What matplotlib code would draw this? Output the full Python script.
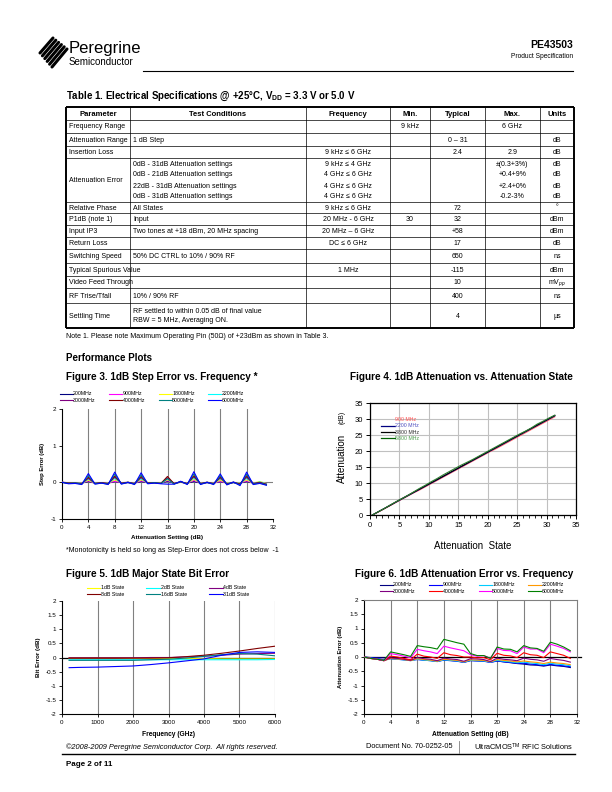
import matplotlib
matplotlib.use('Agg')
import matplotlib.pyplot as plt
from matplotlib.lines import Line2D
import numpy as np

plt.rcParams['font.family'] = ['Liberation Sans', 'DejaVu Sans']
plt.rcParams['mathtext.fontset'] = 'custom'
plt.rcParams['mathtext.rm'] = 'Liberation Sans'
plt.rcParams['mathtext.bf'] = 'Liberation Sans:bold'
plt.rcParams['mathtext.it'] = 'Liberation Sans:italic'

# ---------------- DATA ----------------
# Table 1
headers = ["Parameter", "Test Conditions", "Frequency", "Min.", "Typical", "Max.", "Units"]
params = ["Frequency Range", "Attenuation Range", "Insertion Loss", "Attenuation Error",
          "Relative Phase", "P1dB (note 1)", "Input IP3", "Return Loss", "Switching Speed",
          "Typical Spurious Value", "Video Feed Through", "RF Trise/Tfall", "Settling Time"]
conditions = ["", "1 dB Step", "",
              "0dB - 31dB Attenuation settings\n0dB - 21dB Attenuation settings\n22dB - 31dB Attenuation settings\n0dB - 31dB Attenuation settings",
              "All States", "Input", "Two tones at +18 dBm, 20 MHz spacing", "",
              "50% DC CTRL to 10% / 90% RF", "", "", "10% / 90% RF",
              "RF settled to within 0.05 dB of final value\nRBW = 5 MHz, Averaging ON."]
frequency = ["", "", "9 kHz ≤ 6 GHz",
             "9 kHz ≤ 4 GHz\n4 GHz ≤ 6 GHz\n4 GHz ≤ 6 GHz\n4 GHz ≤ 6 GHz",
             "9 kHz ≤ 6 GHz", "20 MHz - 6 GHz", "20 MHz – 6 GHz", "DC ≤ 6 GHz", "",
             "1 MHz", "", "", ""]
mins = ["9 kHz", "", "", "", "", "30", "", "", "", "", "", "", ""]
typical = ["", "0 – 31", "2.4", "", "72", "32", "+58", "17", "650", "-115", "10", "400", "4"]
maxs = ["6 GHz", "", "2.9", "±(0.3+3%)\n+0.4+9%\n+2.4+0%\n-0.2-3%", "", "", "", "", "", "", "", "", ""]
units = ["", "dB", "dB", "dB\ndB\ndB\ndB", "°", "dBm", "dBm", "dB", "ns", "dBm",
         "mV$_{pp}$", "ns", "µs"]

# Figure 3: 1dB step error vs frequency
f3_x = list(range(32))
f3_labels = ["200MHz", "900MHz", "1800MHz", "2200MHz", "3000MHz", "4000MHz", "5000MHz", "6000MHz"]
f3_200 = [0,-0.01,-0.01,-0.02,0.02,-0.02,-0.01,-0.02,0.02,-0.01,-0.01,-0.02,0.02,-0.01,-0.01,-0.02,0.03,-0.02,0.0,-0.02,0.02,-0.02,-0.01,-0.02,0.02,-0.02,-0.01,-0.02,0.02,-0.02,0.0,-0.03]
f3_900 = [0,-0.01,-0.01,-0.02,0.04,-0.02,-0.01,-0.02,0.03,-0.01,0.0,-0.02,0.04,-0.01,-0.01,-0.02,0.05,-0.02,0.0,-0.02,0.05,-0.02,0.0,-0.02,0.03,-0.02,0.0,-0.02,0.04,-0.02,0.0,-0.03]
f3_1800 = [0,-0.01,-0.01,-0.02,0.06,-0.02,-0.01,-0.02,0.07,-0.01,0.0,-0.02,0.07,-0.01,-0.01,-0.02,0.07,-0.02,0.0,-0.02,0.08,-0.02,0.0,-0.02,0.06,-0.02,0.0,-0.02,0.07,-0.02,0.02,-0.03]
f3_2200 = [0,-0.02,-0.01,-0.03,0.09,-0.02,-0.01,-0.03,0.11,-0.02,0.0,-0.03,0.1,-0.02,-0.01,-0.03,0.1,-0.03,0.01,-0.03,0.12,-0.03,0.0,-0.03,0.1,-0.03,0.0,-0.03,0.11,-0.03,0.01,-0.04]
f3_3000 = [0,-0.02,-0.02,-0.03,0.11,-0.03,-0.01,-0.03,0.14,-0.02,0.0,-0.03,0.13,-0.02,-0.01,-0.03,0.12,-0.03,0.01,-0.03,0.15,-0.03,0.0,-0.03,0.12,-0.04,0.0,-0.04,0.14,-0.03,0.0,-0.05]
f3_4000 = [0,-0.02,-0.02,-0.04,0.14,-0.03,-0.01,-0.04,0.17,-0.03,0.0,-0.04,0.16,-0.02,-0.01,-0.03,0.16,-0.04,0.02,-0.04,0.18,-0.04,0.0,-0.04,0.15,-0.05,0.0,-0.05,0.18,-0.04,-0.01,-0.06]
f3_5000 = [0,-0.03,-0.02,-0.05,0.18,-0.04,-0.02,-0.05,0.22,-0.04,0.0,-0.05,0.2,-0.03,-0.01,-0.03,0.1,-0.05,0.02,-0.05,0.23,-0.05,0.0,-0.05,0.18,-0.06,0.0,-0.07,0.22,-0.05,-0.02,-0.07]
f3_6000 = [0,-0.04,-0.03,-0.06,0.24,-0.05,-0.02,-0.06,0.28,-0.05,0.0,-0.06,0.26,-0.04,-0.02,-0.04,-0.05,-0.05,0.03,-0.06,0.29,-0.06,0.0,-0.06,0.23,-0.07,0.01,-0.09,0.28,-0.06,-0.03,-0.08]
f3_xticks = [0, 4, 8, 12, 16, 20, 24, 28, 32]
f3_yticks = [-1, 0, 1, 2]

# Figure 4: attenuation vs attenuation state
f4_states = [0.4, 1.4, 2.4, 3.4, 4.4, 5.4, 6.4, 7.4, 8.4, 9.4, 10.4, 11.4, 12.4, 13.4, 14.4, 15.4,
             16.4, 17.4, 18.4, 19.4, 20.4, 21.4, 22.4, 23.4, 24.4, 25.4, 26.4, 27.4, 28.4, 29.4, 30.4, 31.4]
f4_labels = ["900 MHz", "2200 MHz", "3800 MHz", "5800 MHz"]
f4_900 = [0,0.9,1.9,2.9,3.9,4.9,5.9,6.9,7.8,8.8,9.8,10.8,11.8,12.8,13.8,14.8,15.8,16.8,17.8,18.8,19.8,20.7,21.7,22.7,23.7,24.7,25.7,26.7,27.7,28.7,29.7,30.7]
f4_2200 = [0,1.0,2.0,3.0,4.0,5.0,6.0,7.0,8.0,9.0,10.0,11.0,12.0,13.0,14.0,15.0,16.0,17.0,18.0,19.0,20.0,21.0,22.0,23.0,24.0,25.0,26.0,27.0,28.0,29.0,30.0,31.0]
f4_3800 = [0,1.0,2.0,3.0,4.1,5.1,6.1,7.1,8.1,9.1,10.1,11.1,12.1,13.1,14.1,15.1,16.1,17.1,18.1,19.1,20.1,21.1,22.1,23.1,24.1,25.1,26.1,27.1,28.1,29.1,30.1,31.1]
f4_5800 = [0,1.0,2.0,3.1,4.1,5.1,6.1,7.2,8.3,9.3,10.4,11.4,12.5,13.5,14.5,15.5,16.4,17.3,18.3,19.3,20.3,21.3,22.3,23.3,24.3,25.3,26.2,27.2,28.4,29.3,30.3,31.2]
f4_ticks = [0, 5, 10, 15, 20, 25, 30, 35]

# Figure 5: major state bit error
f5_freq = [200, 500, 1000, 1500, 2000, 2500, 3000, 3500, 4000, 4500, 5000, 5500, 6000]
f5_labels = ["1dB State", "2dB State", "4dB State", "8dB State", "16dB State", "31dB State"]
f5_1 = [-0.02,-0.02,-0.02,-0.02,-0.03,-0.03,-0.03,-0.04,-0.04,-0.05,-0.05,-0.05,-0.05]
f5_2 = [-0.08,-0.08,-0.08,-0.08,-0.08,-0.08,-0.08,-0.08,-0.08,-0.08,-0.08,-0.08,-0.07]
f5_4 = [-0.01,-0.01,-0.01,-0.01,-0.01,0.0,0.0,0.02,0.05,0.08,0.12,0.14,0.15]
f5_8 = [-0.02,-0.02,-0.02,-0.02,-0.02,-0.02,-0.01,0.03,0.08,0.15,0.23,0.32,0.40]
f5_16 = [-0.10,-0.10,-0.10,-0.10,-0.10,-0.08,-0.06,-0.02,0.04,0.10,0.14,0.12,0.06]
f5_31 = [-0.36,-0.35,-0.34,-0.32,-0.30,-0.25,-0.19,-0.12,-0.05,0.08,0.18,0.20,0.18]
f5_xticks = [0, 1000, 2000, 3000, 4000, 5000, 6000]
f5_yticks = [-2, -1.5, -1, -0.5, 0, 0.5, 1, 1.5, 2]

# Figure 6: attenuation error vs frequency
f6_x = list(range(32))
f6_labels = ["200MHz", "900MHz", "1800MHz", "2200MHz", "3000MHz", "4000MHz", "5000MHz", "6000MHz"]
f6_200 = [0,-0.02,-0.02,-0.03,-0.05,-0.07,-0.09,-0.1,-0.08,-0.1,-0.12,-0.15,-0.1,-0.12,-0.14,-0.18,-0.12,-0.13,-0.14,-0.18,-0.14,-0.17,-0.2,-0.23,-0.25,-0.28,-0.29,-0.32,-0.28,-0.31,-0.33,-0.37]
f6_900 = [0,-0.03,-0.05,-0.1,-0.06,-0.08,-0.1,-0.12,-0.09,-0.11,-0.13,-0.16,-0.11,-0.13,-0.15,-0.19,-0.13,-0.14,-0.15,-0.19,-0.14,-0.17,-0.19,-0.22,-0.22,-0.25,-0.27,-0.3,-0.26,-0.29,-0.31,-0.34]
f6_1800 = [0,-0.04,-0.07,-0.12,-0.06,-0.08,-0.1,-0.13,-0.08,-0.11,-0.13,-0.16,-0.1,-0.12,-0.14,-0.18,-0.12,-0.13,-0.14,-0.18,-0.12,-0.15,-0.17,-0.2,-0.18,-0.21,-0.23,-0.27,-0.22,-0.25,-0.27,-0.31]
f6_2200 = [0,-0.05,-0.08,-0.13,-0.05,-0.07,-0.09,-0.13,-0.06,-0.09,-0.11,-0.15,-0.08,-0.1,-0.12,-0.17,-0.1,-0.11,-0.12,-0.17,-0.09,-0.12,-0.14,-0.17,-0.14,-0.17,-0.19,-0.23,-0.18,-0.21,-0.23,-0.27]
f6_3000 = [0,-0.05,-0.08,-0.13,-0.03,-0.05,-0.08,-0.12,-0.02,-0.06,-0.08,-0.13,-0.04,-0.07,-0.09,-0.15,-0.06,-0.07,-0.09,-0.16,-0.04,-0.08,-0.1,-0.13,-0.04,-0.08,-0.1,-0.15,-0.05,-0.09,-0.12,-0.18]
f6_4000 = [0,-0.05,-0.08,-0.13,0.03,0.0,-0.05,-0.1,0.1,0.03,0.0,-0.05,0.15,0.08,0.05,0.0,0.0,-0.03,-0.02,-0.1,0.13,0.06,0.04,-0.02,0.15,0.08,0.06,-0.02,0.18,0.12,0.06,-0.05]
f6_5000 = [0,-0.05,-0.08,-0.13,0.12,0.08,0.03,-0.03,0.27,0.22,0.18,0.12,0.38,0.32,0.27,0.22,0.08,0.03,0.05,-0.05,0.3,0.23,0.22,0.12,0.35,0.28,0.28,0.15,0.45,0.38,0.3,0.18]
f6_6000 = [0,-0.05,-0.08,-0.12,0.18,0.13,0.08,0.02,0.4,0.36,0.33,0.28,0.62,0.56,0.5,0.45,0.12,0.05,0.05,-0.05,0.35,0.28,0.27,0.18,0.4,0.32,0.3,0.2,0.52,0.45,0.35,0.22]
f6_xticks = [0, 4, 8, 12, 16, 20, 24, 28, 32]
f6_yticks = [-2, -1.5, -1, -0.5, 0, 0.5, 1, 1.5, 2]

# ---------------- PAGE ----------------
W, H = 612, 792
fig = plt.figure(figsize=(6.12, 7.92), dpi=100)
page = fig.add_axes([0, 0, 1, 1])
page.set_xlim(0, W)
page.set_ylim(H, 0)
page.axis('off')


def rect(l, t, r, b):
    return [l / W, 1 - b / H, (r - l) / W, (b - t) / H]


# Logo
for i in range(6):
    t = i / 5.0
    x0, y0 = 40 + 12 * t, 53 + 14 * t
    x1, y1 = 53 + 14 * t, 38 + 11 * t
    page.plot([x0, x1], [y0, y1], color='black', lw=2.2, solid_capstyle='round')
page.text(69, 49, "Peregrine", fontsize=12, va='center', ha='left', color='black')
page.text(69, 62, "Semiconductor", fontsize=7, va='center', ha='left', color='black')
page.plot([143, 573], [71, 71], color='black', lw=0.8)
page.text(573, 45, "PE43503", fontsize=7.5, fontweight='bold', ha='right', va='center')
page.text(573, 57, "Product Specification", fontsize=4.8, ha='right', va='center')

# Table title
page.text(66, 96, "Table 1. Electrical Specifications @ +25°C, V$_{\\mathbf{DD}}$ = 3.3 V or 5.0 V",
          fontsize=7, fontweight='bold', ha='left', va='center')

col_x = [66, 130, 306, 390, 430, 485, 540, 574]
row_y = [107, 120, 133, 146, 158, 202, 213, 225, 237, 249, 263, 276, 288, 303, 328]
columns = [params, conditions, frequency, mins, typical, maxs, units]
aligns = ['left', 'left', 'center', 'center', 'center', 'center', 'center']

for k, y in enumerate(row_y):
    lw = 1.4 if k in (0, len(row_y) - 1) else 0.5
    page.plot([col_x[0], col_x[-1]], [y, y], color='black', lw=lw, solid_capstyle='butt')
for k, x in enumerate(col_x):
    lw = 1.4 if k in (0, len(col_x) - 1) else 0.5
    page.plot([x, x], [row_y[0], row_y[-1]], color='black', lw=lw, solid_capstyle='butt')

for c, h in enumerate(headers):
    page.text((col_x[c] + col_x[c + 1]) / 2, (row_y[0] + row_y[1]) / 2 + 0.5, h,
              fontsize=5.5, fontweight='bold', ha='center', va='center')

for c, col in enumerate(columns):
    for r, txt in enumerate(col):
        if not txt:
            continue
        top, bot = row_y[r + 1], row_y[r + 2]
        lines = txt.split('\n')
        n = len(lines)
        sp = 11 if n > 2 else 9
        ymid = (top + bot) / 2 + 0.5
        for i, line in enumerate(lines):
            yy = ymid + (i - (n - 1) / 2) * sp
            if aligns[c] == 'left':
                xx = col_x[c] + 3
            else:
                xx = (col_x[c] + col_x[c + 1]) / 2
            page.text(xx, yy, line, fontsize=5, ha=aligns[c], va='center')

page.text(66, 336, "Note 1. Please note Maximum Operating Pin (50Ω) of +23dBm as shown in Table 3.",
          fontsize=5, ha='left', va='center')
page.text(66, 358, "Performance Plots", fontsize=7, fontweight='bold', ha='left', va='center')

# Figure titles
page.text(66, 377, "Figure 3. 1dB Step Error vs. Frequency *", fontsize=7.2, fontweight='bold',
          ha='left', va='center')
page.text(573, 377, "Figure 4. 1dB Attenuation vs. Attenuation State", fontsize=7.2,
          fontweight='bold', ha='right', va='center')
page.text(66, 574, "Figure 5. 1dB Major State Bit Error", fontsize=7.2, fontweight='bold',
          ha='left', va='center')
page.text(573, 574, "Figure 6. 1dB Attenuation Error vs. Frequency", fontsize=7.2,
          fontweight='bold', ha='right', va='center')
page.text(66, 550, "*Monotonicity is held so long as Step-Error does not cross below  -1",
          fontsize=5, ha='left', va='center')

# Footer
page.text(66, 747, "©2008-2009 Peregrine Semiconductor Corp.  All rights reserved.",
          fontsize=5.3, style='italic', ha='left', va='center')
page.plot([62, 575], [754, 754], color='black', lw=1.0)
page.text(66, 764, "Page 2 of 11", fontsize=5.8, fontweight='bold', ha='left', va='center')
page.text(452, 747, "Document No. 70-0252-05", fontsize=5.3, ha='right', va='center')
page.plot([459, 459], [741, 753], color='#808080', lw=0.6)
page.text(573, 747, "UltraCMOS$^{\\mathrm{TM}}$ RFIC Solutions", fontsize=5.3, ha='right', va='center')


def style_small(ax, xt, yt):
    ax.set_xticks(xt)
    ax.set_yticks(yt)
    ax.set_yticklabels(['%g' % v for v in yt])
    ax.tick_params(axis='both', direction='out', length=2, width=0.6, labelsize=4.5, pad=2)
    for s in ('left', 'bottom'):
        ax.spines[s].set_linewidth(0.8)
        ax.spines[s].set_color('black')


# ---------------- FIGURE 3 ----------------
ax3 = fig.add_axes(rect(62, 409, 273, 519))
f3_series = [f3_200, f3_900, f3_1800, f3_2200, f3_3000, f3_4000, f3_5000, f3_6000]
f3_colors = ['#000080', '#FF00FF', '#FFFF00', '#00FFFF', '#800080', '#800000', '#008080', '#0000FF']
for s, c, lab in zip(f3_series, f3_colors, f3_labels):
    ax3.plot(f3_x, s, color=c, lw=0.8, label=lab, zorder=3)
ax3.set_xlim(0, 32)
ax3.set_ylim(-1, 2)
for g in f3_xticks[1:-1]:
    ax3.axvline(g, color='#808080', lw=0.8, zorder=1)
ax3.axhline(0, color='#808080', lw=0.8, zorder=1)
ax3.spines['top'].set_visible(False)
ax3.spines['right'].set_visible(False)
style_small(ax3, f3_xticks, f3_yticks)
ax3.set_xlabel("Attenuation Setting (dB)", fontsize=4.5, fontweight='bold', labelpad=4)
ax3.set_ylabel("Step Error (dB)", fontsize=4.2, fontweight='bold', labelpad=4)
h, l = ax3.get_legend_handles_labels()
order = [0, 4, 1, 5, 2, 6, 3, 7]
ax3.legend([h[i] for i in order], [l[i] for i in order], ncol=4, fontsize=3.8, frameon=False,
           loc='center', bbox_to_anchor=(152 / W, 1 - 397 / H), bbox_transform=fig.transFigure,
           handlelength=2.4, handletextpad=0.1, columnspacing=2.6, labelspacing=0.2,
           borderaxespad=0)

# ---------------- FIGURE 4 ----------------
ax4 = fig.add_axes(rect(370, 403, 576, 515))
f4_series = [f4_900, f4_2200, f4_3800, f4_5800]
f4_colors = ['#FF6060', '#000090', '#000000', '#2E7D32']
for s, c in zip(f4_series, f4_colors):
    ax4.plot(f4_states, s, color=c, lw=0.8, zorder=3)
ax4.set_xlim(0, 35)
ax4.set_ylim(0, 35)
ax4.set_xticks(f4_ticks)
ax4.set_yticks(f4_ticks)
ax4.set_xticks(list(range(0, 36)), minor=True)
ax4.grid(True, which='major', color='#C0C0C0', lw=0.8, zorder=0)
ax4.tick_params(axis='both', which='major', direction='out', length=3, width=0.7, labelsize=5.5, pad=2)
ax4.tick_params(axis='x', which='minor', direction='out', length=2, width=0.6)
for s in ax4.spines.values():
    s.set_linewidth(0.9)
ax4.set_xlabel("Attenuation  State", fontsize=7, labelpad=9)
page.text(342, 458, "Attenuation", fontsize=7, rotation=90, ha='center', va='center')
page.text(342, 417, "(dB)", fontsize=5, rotation=90, ha='center', va='center')
leg_handles = [Line2D([], [], color='none'),
               Line2D([], [], color='#000080', lw=0.9),
               Line2D([], [], color='#000000', lw=0.9),
               Line2D([], [], color='#006000', lw=0.9)]
ax4.legend(leg_handles, f4_labels, fontsize=3.8, frameon=False, loc='upper left',
           bbox_to_anchor=(379 / W, 1 - 415 / H), bbox_transform=fig.transFigure,
           handlelength=2.6, handletextpad=0.0, labelspacing=0.25, borderaxespad=0,
           labelcolor=['#FF5050', '#5050C0', '#303030', '#50A050'])

# ---------------- FIGURE 5 ----------------
ax5 = fig.add_axes(rect(62, 601, 275, 714))
f5_series = [f5_1, f5_2, f5_4, f5_8, f5_16, f5_31]
f5_colors = ['#FFFF00', '#00FFFF', '#800080', '#800000', '#008080', '#0000FF']
for s, c, lab in zip(f5_series, f5_colors, f5_labels):
    ax5.plot(f5_freq, s, color=c, lw=0.8, label=lab, zorder=3)
ax5.set_xlim(0, 6000)
ax5.set_ylim(-2, 2)
for g in f5_xticks[1:]:
    ax5.axvline(g, color='#808080', lw=0.8, zorder=1)
ax5.axhline(0, color='black', lw=0.9, zorder=2)
ax5.spines['top'].set_visible(False)
ax5.spines['right'].set_visible(False)
style_small(ax5, f5_xticks, f5_yticks)
ax5.set_xlabel("Frequency (GHz)", fontsize=4.8, fontweight='bold', labelpad=5)
ax5.set_ylabel("Bit Error (dB)", fontsize=4.5, fontweight='bold', labelpad=3)
h, l = ax5.get_legend_handles_labels()
order = [0, 3, 1, 4, 2, 5]
ax5.legend([h[i] for i in order], [l[i] for i in order], ncol=3, fontsize=3.8, frameon=False,
           loc='center', bbox_to_anchor=(168 / W, 1 - 591 / H), bbox_transform=fig.transFigure,
           handlelength=2.6, handletextpad=0.1, columnspacing=4.2, labelspacing=0.2,
           borderaxespad=0)

# ---------------- FIGURE 6 ----------------
ax6 = fig.add_axes(rect(364, 600, 577, 714))
f6_series = [f6_200, f6_900, f6_1800, f6_2200, f6_3000, f6_4000, f6_5000, f6_6000]
f6_colors = ['#000080', '#0000FF', '#00CCFF', '#FF9900', '#800080', '#FF0000', '#FF00FF', '#008000']
for s, c, lab in zip(f6_series, f6_colors, f6_labels):
    ax6.plot(f6_x, s, color=c, lw=0.8, label=lab, zorder=3)
ax6.set_xlim(0, 32)
ax6.set_ylim(-2, 2)
for g in f6_xticks[1:-1]:
    ax6.axvline(g, color='#808080', lw=0.8, zorder=1)
ax6.axhline(0, color='black', lw=0.9, zorder=2, xmax=1.02, clip_on=False)
ax6.spines['top'].set_color('#808080')
ax6.spines['right'].set_color('#808080')
ax6.spines['top'].set_linewidth(0.8)
ax6.spines['right'].set_linewidth(0.8)
style_small(ax6, f6_xticks, f6_yticks)
ax6.set_xlabel("Attenuation Setting (dB)", fontsize=4.8, fontweight='bold', labelpad=5)
ax6.set_ylabel("Attenuation Error (dB)", fontsize=4.2, fontweight='bold', labelpad=3)
h, l = ax6.get_legend_handles_labels()
order = [0, 4, 1, 5, 2, 6, 3, 7]
ax6.legend([h[i] for i in order], [l[i] for i in order], ncol=4, fontsize=3.8, frameon=False,
           loc='center', bbox_to_anchor=(472 / W, 1 - 588 / H), bbox_transform=fig.transFigure,
           handlelength=2.4, handletextpad=0.1, columnspacing=2.6, labelspacing=0.2,
           borderaxespad=0)

fig.savefig('out.png', dpi=100)
